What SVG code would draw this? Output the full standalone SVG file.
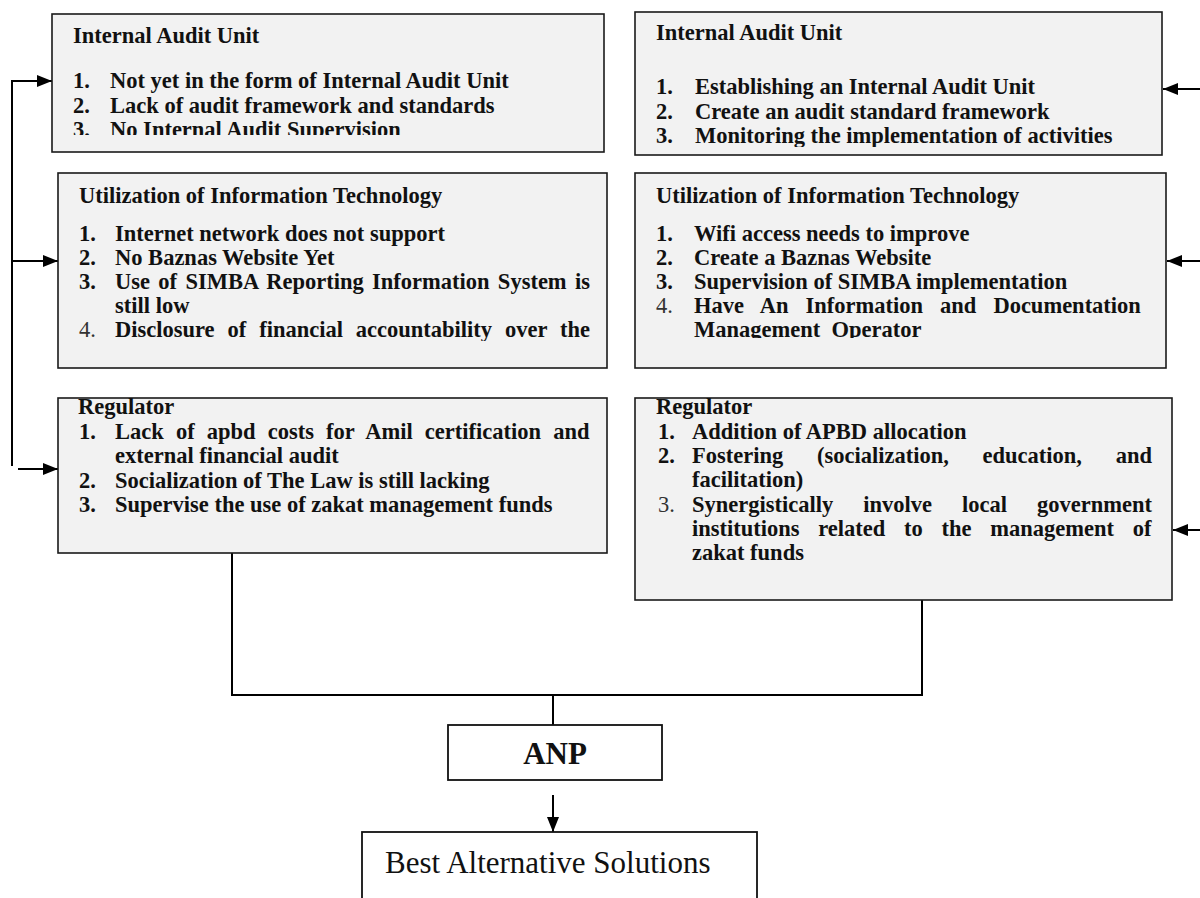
<svg xmlns="http://www.w3.org/2000/svg" width="1200" height="898" viewBox="0 0 1200 898">
<style>
.box{fill:#f2f2f2;stroke:#1a1a1a;stroke-width:1.6}
.wbox{fill:#ffffff;stroke:#111;stroke-width:1.8}
.t{font-family:"Liberation Serif","Times New Roman",serif;font-size:22.5px;font-weight:bold;fill:#111}
.nr{font-weight:normal;fill:#333}
.big{font-family:"Liberation Serif","Times New Roman",serif;font-size:31px;fill:#111}
.ln{fill:none;stroke:#000;stroke-width:2}
</style>
<defs>
<marker id="ah" viewBox="0 0 15 12" refX="15" refY="6" markerWidth="15" markerHeight="12" markerUnits="userSpaceOnUse" orient="auto"><path d="M0,0 L15,6 L0,12 z" fill="#000"/></marker>
<clipPath id="c1"><rect x="52" y="14" width="552" height="121"/></clipPath>
<clipPath id="c2"><rect x="635" y="12" width="527" height="135"/></clipPath>
<clipPath id="c3"><rect x="58" y="173" width="549" height="168"/></clipPath>
<clipPath id="c4"><rect x="635" y="173" width="531" height="165"/></clipPath>
</defs>

<g id="connectors">
<line class="ln" x1="12" y1="466" x2="12" y2="81"/>
<line class="ln" x1="11" y1="81" x2="52" y2="81" marker-end="url(#ah)"/>
<line class="ln" x1="12" y1="261" x2="58" y2="261" marker-end="url(#ah)"/>
<line class="ln" x1="18" y1="469" x2="58" y2="469" marker-end="url(#ah)"/>
<line class="ln" x1="1200" y1="89" x2="1163" y2="89" marker-end="url(#ah)"/>
<line class="ln" x1="1200" y1="261" x2="1167" y2="261" marker-end="url(#ah)"/>
<line class="ln" x1="1200" y1="530" x2="1173" y2="530" marker-end="url(#ah)"/>
<polyline class="ln" points="232,553 232,695 922,695 922,600"/>
<line class="ln" x1="553" y1="695" x2="553" y2="725"/>
<line class="ln" x1="553" y1="795" x2="553" y2="832" marker-end="url(#ah)"/>
</g>

<g id="iau-problems">
<rect class="box" x="52" y="14" width="552" height="138"/>
<g clip-path="url(#c1)">
<text class="t" x="73" y="43">Internal Audit Unit</text>
<text class="t" x="73" y="88">1.</text><text class="t" x="110" y="88">Not yet in the form of Internal Audit Unit</text>
<text class="t" x="73" y="112.5">2.</text><text class="t" x="110" y="112.5">Lack of audit framework and standards</text>
<text class="t" x="73" y="137">3.</text><text class="t" x="110" y="137">No Internal Audit Supervision</text>
</g>
</g>

<g id="iau-solutions">
<rect class="box" x="635" y="12" width="527" height="143"/>
<g clip-path="url(#c2)">
<text class="t" x="656" y="40">Internal Audit Unit</text>
<text class="t" x="656" y="94">1.</text><text class="t" x="695" y="94">Establishing an Internal Audit Unit</text>
<text class="t" x="656" y="118.5">2.</text><text class="t" x="695" y="118.5">Create an audit standard framework</text>
<text class="t" x="656" y="143">3.</text><text class="t" x="695" y="143">Monitoring the implementation of activities</text>
</g>
</g>

<g id="it-problems">
<rect class="box" x="58" y="173" width="549" height="195"/>
<g clip-path="url(#c3)">
<text class="t" x="79" y="203">Utilization of Information Technology</text>
<text class="t" x="79" y="241">1.</text><text class="t" x="115" y="241">Internet network does not support</text>
<text class="t" x="79" y="265">2.</text><text class="t" x="115" y="265">No Baznas Website Yet</text>
<text class="t" x="79" y="289">3.</text><text class="t" x="115" y="289" word-spacing="2.7">Use of SIMBA Reporting Information System is</text>
<text class="t" x="115" y="313">still low</text>
<text class="t nr" x="79" y="337">4.</text><text class="t" x="115" y="337" word-spacing="7.3">Disclosure of financial accountability over the</text>
</g>
</g>

<g id="it-solutions">
<rect class="box" x="635" y="173" width="531" height="195"/>
<g clip-path="url(#c4)">
<text class="t" x="656" y="203">Utilization of Information Technology</text>
<text class="t" x="656" y="241">1.</text><text class="t" x="694" y="241">Wifi access needs to improve</text>
<text class="t" x="656" y="265">2.</text><text class="t" x="694" y="265">Create a Baznas Website</text>
<text class="t" x="656" y="289">3.</text><text class="t" x="694" y="289">Supervision of SIMBA implementation</text>
<text class="t nr" x="656" y="313">4.</text><text class="t" x="694" y="313" word-spacing="11.4">Have An Information and Documentation</text>
<text class="t" x="694" y="337" xml:space="preserve">Management  Operator</text>
</g>
</g>

<g id="reg-problems">
<rect class="box" x="58" y="398" width="549" height="155"/>
<text class="t" x="78" y="414">Regulator</text>
<text class="t" x="79" y="439">1.</text><text class="t" x="115" y="439" word-spacing="6.5">Lack of apbd costs for Amil certification and</text>
<text class="t" x="115" y="463">external financial audit</text>
<text class="t" x="79" y="488">2.</text><text class="t" x="115" y="488">Socialization of The Law is still lacking</text>
<text class="t" x="79" y="512">3.</text><text class="t" x="115" y="512">Supervise the use of zakat management funds</text>
</g>

<g id="reg-solutions">
<rect class="box" x="635" y="398" width="537" height="202"/>
<text class="t" x="656" y="414">Regulator</text>
<text class="t" x="658" y="439">1.</text><text class="t" x="692" y="439">Addition of APBD allocation</text>
<text class="t" x="658" y="463">2.</text><text class="t" x="692" y="463" word-spacing="28.1">Fostering (socialization, education, and</text>
<text class="t" x="692" y="487">facilitation)</text>
<text class="t nr" x="658" y="512">3.</text><text class="t" x="692" y="512" word-spacing="24.4">Synergistically involve local government</text>
<text class="t" x="692" y="536" word-spacing="13.1">institutions related to the management of</text>
<text class="t" x="692" y="560">zakat funds</text>
</g>

<g id="anp">
<rect class="wbox" x="448" y="725" width="214" height="55"/>
<text class="big" x="555" y="764" text-anchor="middle" font-weight="bold">ANP</text>
</g>

<g id="best">
<rect class="wbox" x="362" y="832" width="395" height="80"/>
<text class="big" x="385" y="873">Best Alternative Solutions</text>
</g>
</svg>
